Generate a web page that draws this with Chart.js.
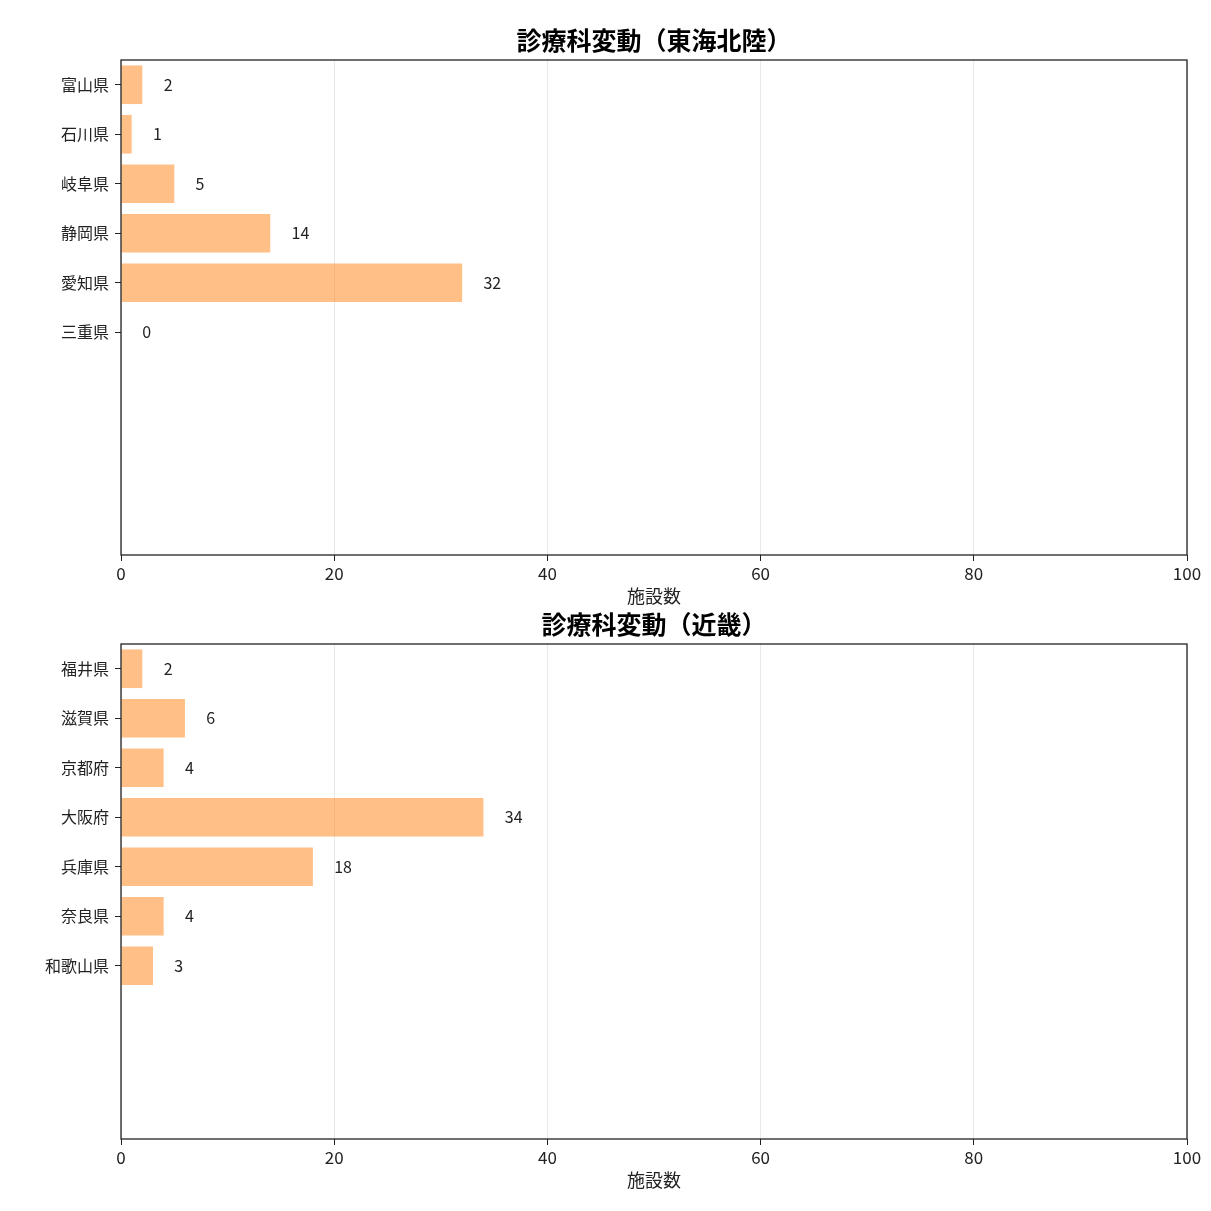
<!DOCTYPE html>
<html>
<head>
<meta charset="utf-8">
<script src="https://cdn.jsdelivr.net/npm/chart.js@4.4.1/dist/chart.umd.min.js"></script>
<style>
  body { margin: 0; background: #fff; }
  .box { position: absolute; left: 0; width: 1211px; height: 607px; }
  #top { top: 0; }
  #bottom { top: 584px; }
</style>
</head>
<body>
<div class="box" id="top"><canvas id="chartTokai"></canvas></div>
<div class="box" id="bottom"><canvas id="chartKinki"></canvas></div>
<script>
// 10 slots per chart, unused slots stay blank
const tokaiLabels = ['富山県', '石川県', '岐阜県', '静岡県', '愛知県', '三重県', '', '', '', ''];
const tokaiValues = [2, 1, 5, 14, 32, 0, null, null, null, null];

const kinkiLabels = ['福井県', '滋賀県', '京都府', '大阪府', '兵庫県', '奈良県', '和歌山県', '', '', ''];
const kinkiValues = [2, 6, 4, 34, 18, 4, 3, null, null, null];

const xTicks = [0, 20, 40, 60, 80, 100];

const FONT = '"Noto Sans CJK JP", "DejaVu Sans", sans-serif';

// frame round the plot area + value labels right of the bars
const framePlugin = {
  id: 'frame',
  afterDraw(chart) {
    const { ctx, chartArea: a } = chart;
    const x = chart.scales.x, y = chart.scales.y;
    const values = chart.data.datasets[0].data;
    ctx.save();
    ctx.font = '16px ' + FONT;
    ctx.fillStyle = '#222';
    ctx.textAlign = 'left';
    ctx.textBaseline = 'middle';
    values.forEach((v, i) => {
      if (v === null) return;
      ctx.fillText(String(v), x.getPixelForValue(v + 2), y.getPixelForValue(i));
    });
    ctx.strokeStyle = '#222';
    ctx.lineWidth = 1.3;
    ctx.strokeRect(a.left, a.top, a.right - a.left, a.bottom - a.top);
    ctx.restore();
  }
};

function makeChart(id, title, labels, values) {
  const ctx = document.getElementById(id).getContext('2d');
  return new Chart(ctx, {
    type: 'bar',
    data: {
      labels: labels,
      datasets: [{
        data: values,
        backgroundColor: 'rgba(255, 127, 14, 0.5)',
        borderWidth: 0,
        categoryPercentage: 1.0,
        barPercentage: 0.78
      }]
    },
    options: {
      indexAxis: 'y',
      responsive: true,
      maintainAspectRatio: false,
      animation: false,
      layout: { padding: { left: 0, right: 24, top: 0, bottom: 0 } },
      plugins: {
        legend: { display: false },
        tooltip: { enabled: false },
        title: {
          display: true,
          fullSize: false,
          text: title,
          color: '#000',
          font: { family: FONT, size: 25, weight: 'bold' },
          padding: { top: 25, bottom: 5 }
        }
      },
      scales: {
        x: {
          type: 'linear',
          min: 0,
          max: 100,
          afterBuildTicks(scale) { scale.ticks = xTicks.map(v => ({ value: v })); },
          grid: { color: '#e8e8e8', tickColor: '#222', tickLength: 6, lineWidth: 1 },
          border: { display: false },
          ticks: { color: '#222', padding: 2, maxRotation: 0, font: { family: FONT, size: 17 } },
          title: {
            display: true,
            text: '施設数',
            color: '#222',
            padding: { top: 0, bottom: 0 },
            font: { family: FONT, size: 18 }
          }
        },
        y: {
          grid: {
            offset: false,
            drawOnChartArea: false,
            tickLength: 6,
            tickColor: c => labels[c.index] ? '#222' : 'rgba(0,0,0,0)'
          },
          border: { display: false },
          afterFit(scale) { scale.width = 121; },
          ticks: { color: '#222', padding: 6, autoSkip: false, font: { family: FONT, size: 16 } }
        }
      }
    },
    plugins: [framePlugin]
  });
}

makeChart('chartTokai', '診療科変動（東海北陸）', tokaiLabels, tokaiValues);
makeChart('chartKinki', '診療科変動（近畿）', kinkiLabels, kinkiValues);
</script>
</body>
</html>
